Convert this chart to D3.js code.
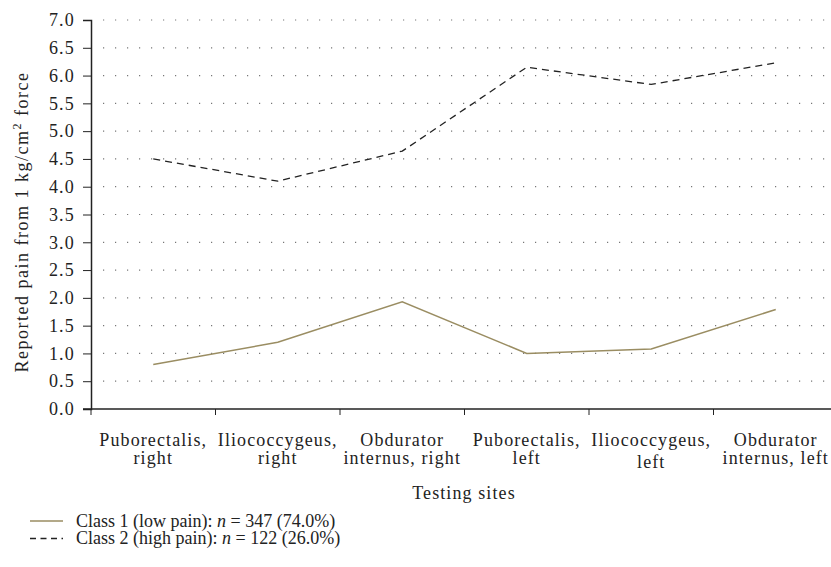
<!DOCTYPE html>
<html><head><meta charset="utf-8">
<script src="https://cdn.jsdelivr.net/npm/d3@7"></script>
<style>body{margin:0;background:#fff}svg{display:block}text{font-family:"Liberation Serif","DejaVu Serif",serif;fill:#222}</style>
</head><body><svg id="c" width="831" height="567"></svg>
<script>
const categories = [["Puborectalis,","right"],["Iliococcygeus,","right"],["Obdurator","internus, right"],["Puborectalis,","left"],["Iliococcygeus,","left"],["Obdurator","internus, left"]];
const class1 = [0.8, 1.2, 1.93, 1.0, 1.08, 1.79];
const class2 = [4.5, 4.1, 4.64, 6.15, 5.84, 6.23];
const yTicks = [0,0.5,1,1.5,2,2.5,3,3.5,4,4.5,5,5.5,6,6.5,7];
const seriesNames = ["Class 1 (low pain): ", "Class 2 (high pain): "];
const seriesN = [["347","74.0%"],["122","26.0%"]];

const svg = d3.select("#c");
const mL = 91, mR = 838, mT = 20, mB = 409;
const x = d3.scaleBand().domain(d3.range(categories.length)).range([mL, mR]);
const y = d3.scaleLinear().domain([0,7]).range([mB, mT]);

// grid
svg.append("g").selectAll("line").data(yTicks.filter(d=>d>0)).join("line")
  .attr("x1", mL+12).attr("x2", 831).attr("y1", d=>y(d)).attr("y2", d=>y(d))
  .attr("stroke","#777").attr("stroke-width",1.2).attr("stroke-dasharray","1.2 10.8");

// y axis
const ya = svg.append("g").attr("transform",`translate(${mL},0)`)
  .call(d3.axisLeft(y).tickValues(yTicks).tickFormat(d3.format(".1f")).tickSize(8).tickPadding(8));
ya.select(".domain").attr("stroke","#222").attr("stroke-width",1.5);
ya.selectAll(".tick line").attr("stroke","#222");
ya.selectAll("text").attr("font-size",18).attr("letter-spacing",1.2).style("font-family",'"Liberation Serif",serif').attr("fill","#222");

// x axis
svg.append("line").attr("x1",mL-8).attr("x2",831).attr("y1",mB).attr("y2",mB).attr("stroke","#222").attr("stroke-width",1.5);
svg.append("g").selectAll("line").data(d3.range(categories.length)).join("line")
  .attr("x1",d=>x(d)).attr("x2",d=>x(d)).attr("y1",mB).attr("y2",mB+6).attr("stroke","#222");
const xl = svg.append("g").selectAll("text").data(categories).join("text")
  .attr("x",(d,i)=>x(i)+x.bandwidth()/2).attr("text-anchor","middle").attr("font-size",18).attr("letter-spacing",1.1);
xl.append("tspan").attr("x",(d,i)=>x(i)+x.bandwidth()/2).attr("y",446).text(d=>d[0]);
xl.append("tspan").attr("x",(d,i)=>x(i)+x.bandwidth()/2).attr("y",(d,i)=>i===4?468:464).text(d=>d[1]);

svg.append("text").attr("x",464).attr("y",499).attr("text-anchor","middle").attr("font-size",18).attr("letter-spacing",1.1).text("Testing sites");

const yt = svg.append("text").attr("transform","translate(28,222) rotate(-90)").attr("text-anchor","middle").attr("font-size",18).attr("letter-spacing",1.5);
yt.append("tspan").text("Reported pain from 1 kg/cm");
yt.append("tspan").attr("font-size",12).attr("dy",-7).text("2");
yt.append("tspan").attr("dy",7).text(" force");

// lines
const line = d3.line().x((d,i)=>x(i)+x.bandwidth()/2).y(d=>y(d));
svg.append("path").datum(class1).attr("d",line).attr("fill","none").attr("stroke","#9a8d62").attr("stroke-width",1.5);
svg.append("path").datum(class2).attr("d",line).attr("fill","none").attr("stroke","#222").attr("stroke-width",1.3).attr("stroke-dasharray","7 5");

// legend
const lg = svg.append("g");
[0,1].forEach(i=>{
  const yy = 521 + i*17.5;
  lg.append("line").attr("x1",30).attr("x2",63).attr("y1",yy).attr("y2",yy)
    .attr("stroke", i===0?"#9a8d62":"#222").attr("stroke-width",1.3).attr("stroke-dasharray", i===0?null:"6 4.5");
  const t = lg.append("text").attr("x",76).attr("y",yy+5.5).attr("font-size",18);
  t.append("tspan").text(seriesNames[i]);
  t.append("tspan").attr("font-style","italic").text("n");
  t.append("tspan").text(` = ${seriesN[i][0]} (${seriesN[i][1]})`);
});
</script></body></html>
